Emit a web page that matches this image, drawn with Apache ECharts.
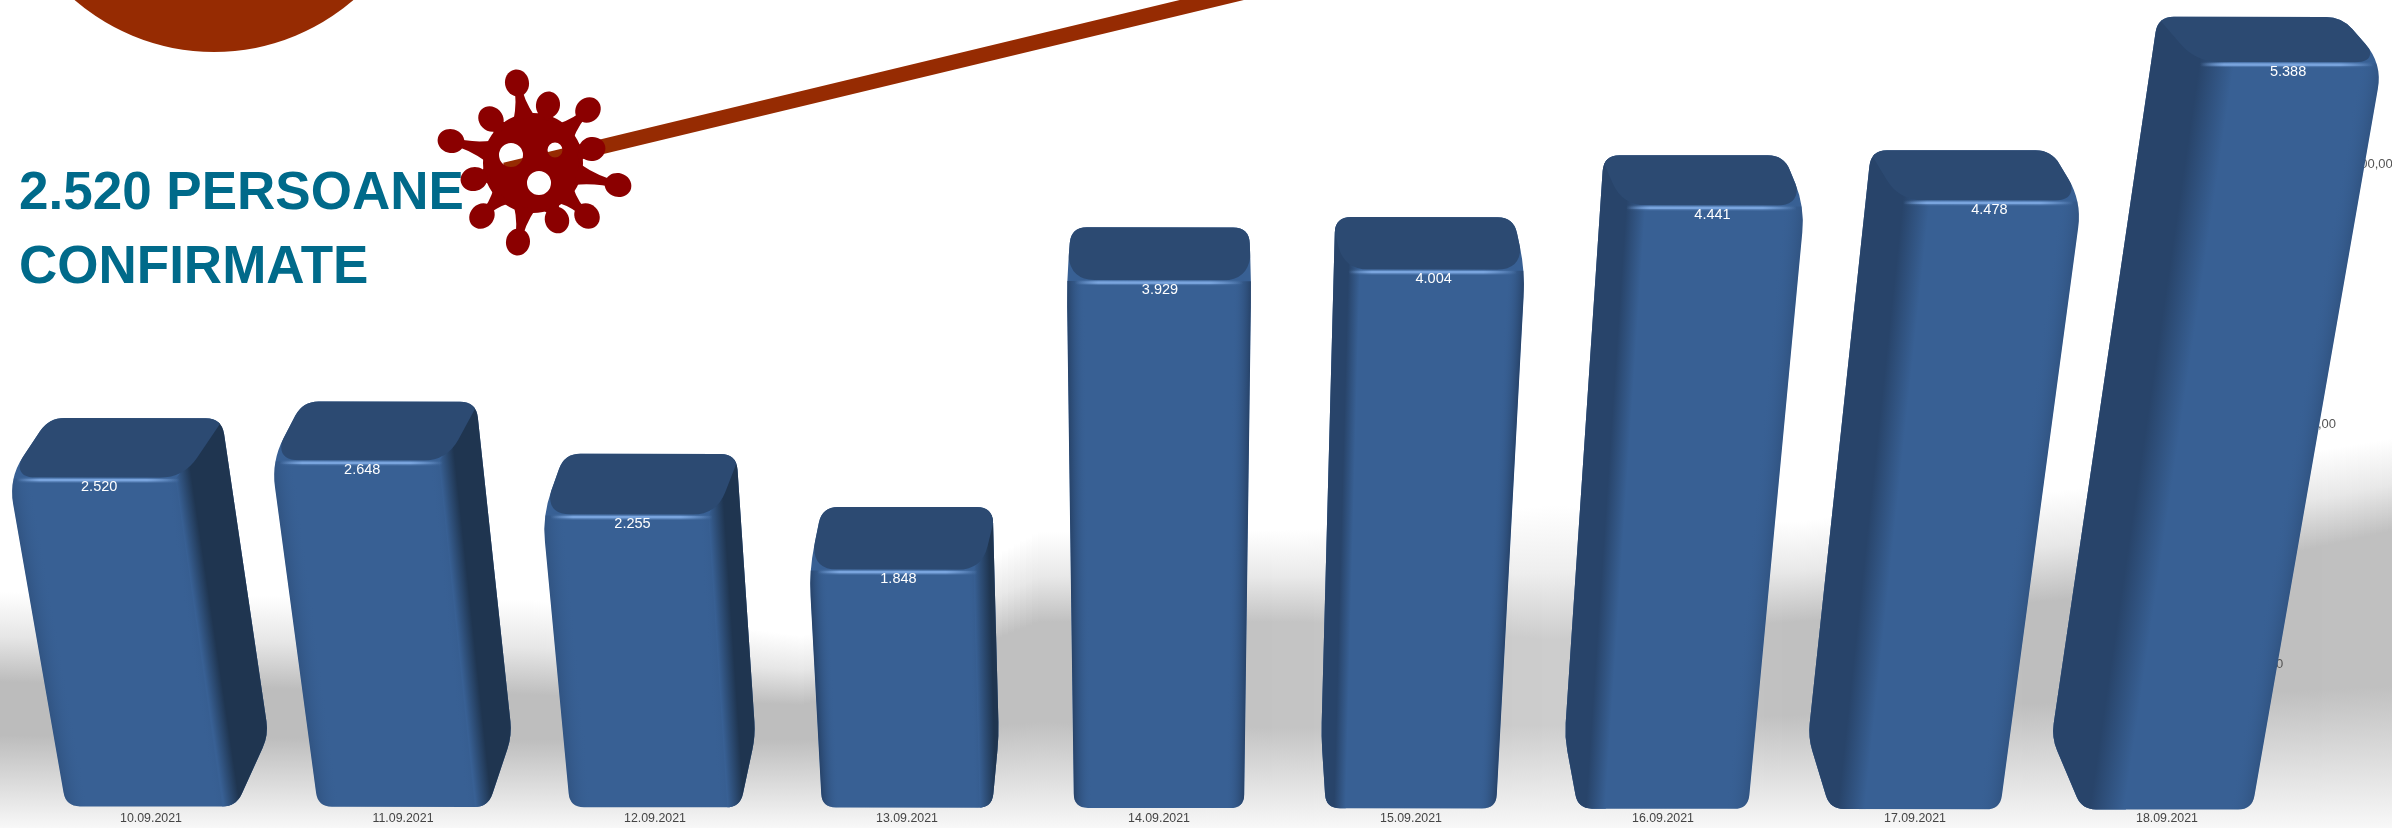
<!DOCTYPE html>
<html><head><meta charset="utf-8">
<style>html,body{margin:0;padding:0;background:#fff}#c{width:2392px;height:828px}</style>
<script src="https://cdn.jsdelivr.net/npm/echarts@6/dist/echarts.min.js"></script>
</head><body><div id="c"></div>
<script>
// ---- chart data ----
const categories = ['10.09.2021','11.09.2021','12.09.2021','13.09.2021','14.09.2021','15.09.2021','16.09.2021','17.09.2021','18.09.2021'];
const confirmed = [2520,2648,2255,1848,3929,4004,4441,4478,5388];
const valueTicks = [0,2000,4000];
const valueTickLabels = ['0,00','2.000,00','4.000,00'];
const headline = '2.520 PERSOANE\nCONFIRMATE';

// ---- look: perspective of the scene (the bars stay on the library's scales) ----
const VX = 1159, CY = 1.63e-4, CX = 1.6e-4, ROLL = 0.0015;
const DVX = 1190, DVY = -1300, DEPTH = 0.034, WALL = 0.069;
const BAR_FRACTION = 0.675;
const FONT = '"Liberation Sans", Arial, sans-serif';
const C_FRONT = '#386094', C_TOP = '#2c4a72', C_HILITE = '#7aa5de';

function project(px, py, baseY, depth) {
  const h = baseY - py;
  let X = VX + (px - VX) / (1 - h * CX);
  let Y = baseY - h / (1 - h * CY) + ROLL * (px - VX);
  X += depth * (DVX - X);
  Y += depth * (DVY - Y);
  return [X, Y];
}
function hull(pts) {
  const p = pts.slice().sort((a, b) => a[0] - b[0] || a[1] - b[1]);
  const cross = (o, a, b) => (a[0]-o[0])*(b[1]-o[1]) - (a[1]-o[1])*(b[0]-o[0]);
  const lo = [], up = [];
  for (const q of p) { while (lo.length > 1 && cross(lo[lo.length-2], lo[lo.length-1], q) <= 0) lo.pop(); lo.push(q); }
  for (const q of p.slice().reverse()) { while (up.length > 1 && cross(up[up.length-2], up[up.length-1], q) <= 0) up.pop(); up.push(q); }
  return lo.slice(0, -1).concat(up.slice(0, -1));
}
function roundPath(pts, radius) {
  const n = pts.length; let d = '';
  for (let i = 0; i < n; i++) {
    const p = pts[i], a = pts[(i + n - 1) % n], b = pts[(i + 1) % n];
    const r = typeof radius === 'function' ? radius(p) : radius;
    const la = Math.hypot(a[0]-p[0], a[1]-p[1]), lb = Math.hypot(b[0]-p[0], b[1]-p[1]);
    const ra = Math.min(r, la * 0.45) / (la || 1), rb = Math.min(r, lb * 0.45) / (lb || 1);
    const s = [p[0] + (a[0]-p[0]) * ra, p[1] + (a[1]-p[1]) * ra];
    const e = [p[0] + (b[0]-p[0]) * rb, p[1] + (b[1]-p[1]) * rb];
    d += (i ? 'L' : 'M') + s[0].toFixed(2) + ' ' + s[1].toFixed(2) + 'Q' + p[0].toFixed(2) + ' ' + p[1].toFixed(2) + ' ' + e[0].toFixed(2) + ' ' + e[1].toFixed(2);
  }
  return d + 'Z';
}
function grad(a, b, w, sign, stops) {
  const dx = b[0]-a[0], dy = b[1]-a[1], l = Math.hypot(dx, dy) || 1;
  let nx = -dy / l, ny = dx / l;
  if ((nx > 0 ? 1 : -1) !== sign) { nx = -nx; ny = -ny; }
  return new echarts.graphic.LinearGradient(a[0], a[1], a[0] + nx * w, a[1] + ny * w, stops, true);
}
function fmt(v) { const s = String(v); return s.length > 3 ? s.slice(0, -3) + '.' + s.slice(-3) : s; }
const poly = pts => 'M' + pts.map(p => p[0].toFixed(2) + ' ' + p[1].toFixed(2)).join('L') + 'Z';

function renderBar(params, api) {
  const cat = api.value(0), v = api.value(1);
  const [cx, topY] = api.coord([cat, v]);
  const baseY = api.coord([cat, 0])[1];
  const half = api.size([1, 0])[0] * BAR_FRACTION / 2;
  const L = cx - half, R = cx + half;
  const fl = project(L, topY, baseY, 0), fr = project(R, topY, baseY, 0);
  const bl = project(L, topY, baseY, DEPTH), br = project(R, topY, baseY, DEPTH);
  const gfl = project(L, baseY, baseY, 0), gfr = project(R, baseY, baseY, 0);
  const gbl = project(L, baseY, baseY, DEPTH), gbr = project(R, baseY, baseY, DEPTH);

  const outline = hull([fl, fr, bl, br, gfl, gfr, gbl, gbr]);
  const outlineD = roundPath(outline, p => (p === bl || p === br) ? 16 : (p === fl || p === fr) ? 26 : 14);
  const kids = [{ type: 'path', shape: { pathData: outlineD }, style: { fill: C_FRONT } }];
  const inner = [];
  const off = Math.abs(cx - VX);

  const bevel = off < 300 ? 18 : 22;
  const bevelAlpha = off < 300 ? 0.85 : 0.35;
  const bevelStops = [{offset:0,color:'rgba(36,62,98,' + bevelAlpha + ')'},{offset:1,color:'rgba(56,96,148,0)'}];
  inner.push({ type: 'path', shape: { pathData: poly([gfl, fl, [fl[0]+bevel, fl[1]], [gfl[0]+bevel, gfl[1]]]) },
    style: { fill: grad(gfl, fl, bevel, 1, bevelStops) } });
  inner.push({ type: 'path', shape: { pathData: poly([gfr, fr, [fr[0]-bevel, fr[1]], [gfr[0]-bevel, gfr[1]]]) },
    style: { fill: grad(gfr, fr, bevel, -1, bevelStops) } });

  if (off > 60) {
    const right = cx < VX;
    const a = right ? gfr : gfl, b = right ? fr : fl, c = right ? br : bl, d = right ? gbr : gbl;
    const sign = right ? 1 : -1;
    const soft = right ? 12 : 12 + off * 0.03;
    const ramp = right ? 16 : soft - 8;
    const ai = [a[0] - sign * soft, a[1]], bi = [b[0] - sign * soft, b[1]];
    const w = Math.abs(d[0] - a[0]) + soft + 6;
    const dark = right ? '#1f3550' : '#28446a';
    inner.push({ type: 'path', shape: { pathData: poly([[ai[0], ai[1]+12], bi, c, [c[0]+sign*12, c[1]], [d[0]+sign*12, d[1]], [a[0]+sign*12, a[1]+12]]) },
      style: { fill: grad(ai, bi, w, sign, [{offset:0,color:C_FRONT},{offset:Math.min(0.8,ramp/w),color:dark},{offset:1,color:dark}]) } });
  }
  const inset = 4;
  inner.push({ type: 'path', shape: { pathData: roundPath([
      [bl[0]-6, bl[1]-6], [br[0]+6, br[1]-6], [fr[0]-inset, fr[1]-1], [fl[0]+inset, fl[1]-1]
    ], p => p[1] > (fl[1]+bl[1])/2 ? 24 : 4) }, style: { fill: C_TOP } });
  const hi = new echarts.graphic.LinearGradient(fl[0]+8, 0, fr[0]-8, 0, [
    {offset:0,color:'rgba(122,165,222,0)'},{offset:0.14,color:C_HILITE},{offset:0.8,color:C_HILITE},{offset:1,color:'rgba(122,165,222,0)'}], true);
  const hiD = 'M'+(fl[0]+8)+' '+(fl[1]+1.5)+'L'+(fr[0]-8)+' '+(fr[1]+1.5);
  inner.push({ type: 'path', shape: { pathData: hiD }, style: { fill: null, stroke: hi, lineWidth: 5, opacity: 0.35 } });
  inner.push({ type: 'path', shape: { pathData: hiD }, style: { fill: null, stroke: hi, lineWidth: 2.5 } });

  kids.push({ type: 'group', clipPath: { type: 'path', shape: { pathData: outlineD } }, children: inner });
  kids.push({ type: 'text', style: {
    text: fmt(v), x: (fl[0] + fr[0]) / 2 + 1, y: (fl[1] + fr[1]) / 2 + 8.5,
    fill: '#fff', font: '14.5px ' + FONT, align: 'center', verticalAlign: 'middle' } });
  return { type: 'group', children: kids };
}

function renderWallTick(params, api) {
  const i = api.value(0), v = api.value(1);
  const baseY = api.coord([0, 0])[1], py = api.coord([0, v])[1];
  const px = params.coordSys.x + params.coordSys.width + 83;
  const p = project(px, py, baseY, WALL);
  return { type: 'text', style: { text: valueTickLabels[i], x: p[0] - 11 + 0.025 * (baseY - py), y: p[1], fill: '#555',
    font: '13px ' + FONT, align: 'right', verticalAlign: 'middle' } };
}

// ---- floor shadow behind the bars: [x, fade-in start, full, fade-out start, gray level] ----
const shade = [
  [0,    592, 682, 735, 188],
  [530,  600, 695, 740, 190],
  [800,  636, 705, 740, 190],
  [930,  590, 665, 730, 192],
  [1035, 532, 622, 722, 192],
  [1300, 530, 622, 728, 196],
  [1550, 505, 640, 725, 205],
  [1790, 522, 622, 715, 192],
  [2095, 486, 597, 700, 190],
  [2392, 438, 530, 686, 192]
];
const backdrop = [];
for (let x = 0; x < 2392; x += 6) {
  let k = 0; while (k < shade.length - 2 && shade[k + 1][0] <= x) k++;
  const a = shade[k], b = shade[k + 1], t = (x - a[0]) / (b[0] - a[0]);
  const m = a.map((q, i) => q + (b[i] - q) * t);
  const g = Math.round(m[4]), col = c => `rgb(${c},${c},${c})`;
  const H = 828 - m[1];
  backdrop.push({ type: 'rect', z: 0, silent: true, shape: { x, y: m[1], width: 7, height: H },
    style: { fill: new echarts.graphic.LinearGradient(0, m[1], 0, 828, [
      {offset:0, color:col(255)}, {offset:(m[2]-m[1])*0.5/H, color:col(Math.round((255+g)/2+8))},
      {offset:(m[2]-m[1])/H, color:col(g)},
      {offset:(m[3]-m[1])/H, color:col(g)}, {offset:1, color:col(248)}], true) } });
}

// ---- decoration: disc, rod, virus ----
const vx = 533, vy = 163;
const spikes = [[517,83],[548,105],[588,110],[491,119],[451,141],[592,149],[618,185],[474,179],[482,216],[587,216],[557,220],[518,242]];
const holes = [[511,155,12],[555,150,7.5],[539,183,12]];
function ring(x, y, r, sweep) { return `M${x-r} ${y}A${r} ${r} 0 1 ${sweep} ${x+r} ${y}A${r} ${r} 0 1 ${sweep} ${x-r} ${y}Z`; }
const VIRUS = '#8b0000';
function renderDeco() {
  const kids = [
    { type: 'circle', shape: { cx: 214, cy: -161, r: 213 }, style: { fill: '#962b02' } },
    { type: 'line', shape: { x1: 505, y1: 170, x2: 1270, y2: -14 }, style: { stroke: '#962b02', lineWidth: 15 } },
    { type: 'path', shape: { pathData: ring(vx, vy, 50, 1) + holes.map(h => ring(h[0], h[1], h[2], 0)).join('') }, style: { fill: VIRUS } }
  ];
  for (const s of spikes) {
    const dx = s[0] - vx, dy = s[1] - vy, l = Math.hypot(dx, dy), ux = dx / l, uy = dy / l, nx = -uy, ny = ux;
    const P = (r, w) => [vx + ux * r + nx * w, vy + uy * r + ny * w].map(n => n.toFixed(1)).join(' ');
    const mid = (46 + l) / 2;
    kids.push({ type: 'path', shape: { pathData:
      `M${P(45, 11)}Q${P(mid, 3)} ${P(l, 3.5)}L${P(l, -3.5)}Q${P(mid, -3)} ${P(45, -11)}Z` }, style: { fill: VIRUS } });
    kids.push({ type: 'ellipse', x: s[0], y: s[1], rotation: -Math.atan2(dy, dx), shape: { cx: 0, cy: 0, rx: 13.5, ry: 12 }, style: { fill: VIRUS } });
  }
  return { type: 'group', children: kids };
}

const chart = echarts.init(document.getElementById('c'), null, { renderer: 'canvas' });
chart.setOption({
  animation: false,
  backgroundColor: '#fff',
  title: { text: headline, left: 19, top: 157, padding: 0, itemGap: 0,
    textStyle: { color: '#006a8a', fontFamily: FONT, fontWeight: 'bold', fontSize: 53, lineHeight: 74 } },
  grid: { left: 25, width: 2268, top: 67, bottom: 20 },
  xAxis: { type: 'category', data: categories, axisLine: { show: false }, axisTick: { show: false },
    axisLabel: { color: '#444', fontFamily: FONT, fontSize: 12.4, margin: 5, interval: 0 }, splitLine: { show: false } },
  yAxis: { type: 'value', min: 0, max: 6000, interval: 2000, show: false, splitLine: { show: false } },
  graphic: { elements: backdrop },
  series: [
    { type: 'custom', name: 'axis', z: 1, silent: true, coordinateSystem: 'cartesian2d', clip: false,
      renderItem: renderWallTick, encode: { x: 0, y: 1 }, data: valueTicks.map((v, i) => [i, v]) },
    { type: 'custom', name: 'Persoane confirmate', z: 2, coordinateSystem: 'cartesian2d', clip: false,
      renderItem: renderBar, encode: { x: 0, y: 1 }, data: confirmed.map((v, i) => [i, v]) },
    { type: 'custom', name: 'decor', z: 4, silent: true, coordinateSystem: 'none', clip: false,
      renderItem: renderDeco, data: [[0]] }
  ]
});
</script></body></html>
